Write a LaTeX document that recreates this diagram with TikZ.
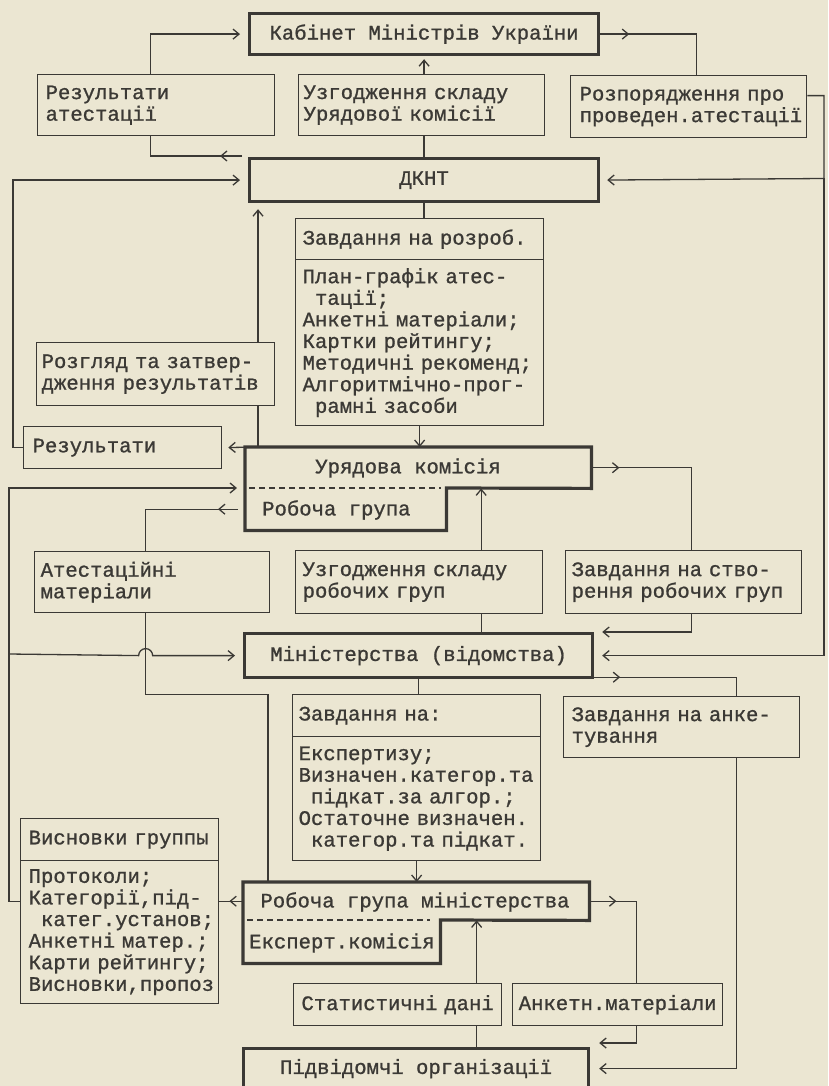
\documentclass[tikz,border=0pt]{standalone}
\usepackage{fontspec}
\usetikzlibrary{arrows.meta,decorations.markings}
\newfontfamily\mono[FakeBold=1]{Liberation Mono}
\definecolor{paper}{HTML}{EBE6D2}
\definecolor{ink}{HTML}{3B3935}
\tikzset{
  every node/.style={font=\mono\fontsize{20.6}{21.6}\selectfont, text=ink},
  tb/.style={draw=ink, line width=1.3pt, anchor=north west, inner ysep=0pt, align=left,
    execute at begin node={\hyphenpenalty=10000 \exhyphenpenalty=10000}},
  thk/.style={draw=ink, line width=3.2pt, anchor=north west, inner sep=0pt},
  part/.style={anchor=north west, inner sep=0pt},
  lbl/.style={inner sep=0pt},
  ln/.style={draw=ink, line width=1.3pt},
  arr/.style={ln, -{Straight Barb[length=6pt,width=10pt]}},
  marr/.style={ln, postaction={decorate}, decoration={markings,
      mark=at position #1 with {\arrow{Straight Barb[length=6pt,width=10pt]}}}},
  dsh/.style={draw=ink, line width=1.3pt, dash pattern=on 6pt off 4pt},
}
\begin{document}
\begin{tikzpicture}[x=1pt,y=-1pt]
\fill[paper] (0,0) rectangle (828,1086);
\useasboundingbox (0,0) rectangle (828,1086);

% ---------- boxes ----------
\node[thk, minimum width=349, minimum height=41] (kab) at (248,12) {Кабінет~Міністрів~України};
\node[tb, minimum width=237, minimum height=61, inner xsep=8pt, text width=221] (ra) at (37,74) {Результати\\атестації};
\node[tb, minimum width=246, minimum height=61, inner xsep=5pt, text width=236] (uzk) at (298,74) {Узгодження~складу\\Урядової~комісії};
\node[tb, minimum width=236, minimum height=62, inner xsep=9pt, text width=218] (roz) at (570,75) {Розпорядження~про\\проведен.атестації};
\node[thk, minimum width=349, minimum height=43] (dknt) at (248,157) {ДКНТ};
\node[tb, minimum width=248, minimum height=41, inner xsep=7pt, text width=234] (zrh) at (295,218) {Завдання~на~розроб.};
\node[tb, minimum width=248, minimum height=166, inner xsep=7pt, text width=234] (zrb) at (295,259)
  {План-графік~атес-\\\phantom{a}тації;\\Анкетні~матеріали;\\Картки~рейтингу;\\Методичні~рекоменд;\\Алгоритмічно-прог-\\\phantom{a}рамні~засоби};
\node[tb, minimum width=238, minimum height=63, inner xsep=5pt, text width=228] (rozg) at (36,342) {Розгляд~та~затвер-\\дження~результатів};
\node[tb, minimum width=198, minimum height=42, inner xsep=9pt, text width=180] (rez) at (23,426) {Результати};

% Урядова комісія / Робоча група
\node[part, minimum width=346, minimum height=41] (ub1) at (245,447) {};
\node[part, minimum width=201, minimum height=42] (ub2) at (245,488) {};
\draw[ink, line width=3.2pt] (ub1.north west) -- (ub1.north east) -- (ub1.south east) -- (ub2.north east)
  -- (ub2.south east) -- (ub2.south west) -- cycle;
\draw[dsh] ([xshift=4pt]ub2.north west) -- ([xshift=-5pt]ub2.north east);
\node[lbl] (urkt) at (408,468) {Урядова~комісія};
\node[lbl, anchor=west] (rgt) at (262,510) {Робоча~група};

\node[tb, minimum width=235, minimum height=61, inner xsep=6pt, text width=223] (ats) at (34,551) {Атестаційні\\матеріали};
\node[tb, minimum width=247, minimum height=63, inner xsep=7pt, text width=233] (uzr) at (295,550) {Узгодження~складу\\робочих~груп};
\node[tb, minimum width=236, minimum height=63, inner xsep=6pt, text width=224] (zst) at (565,550) {Завдання~на~ство-\\рення~робочих~груп};
\node[thk, minimum width=348, minimum height=44] (min) at (243,632) {Міністерства~(відомства)};
\node[tb, minimum width=248, minimum height=42, inner xsep=6pt, text width=236] (znh) at (292,694) {Завдання~на:};
\node[tb, minimum width=248, minimum height=124, inner xsep=6pt, text width=236] (znb) at (292,736)
  {Експертизу;\\Визначен.категор.та\\\phantom{a}підкат.за~алгор.;\\Остаточне~визначен.\\\phantom{a}категор.та~підкат.};
\node[tb, minimum width=236, minimum height=61, inner xsep=8pt, text width=220] (zan) at (563,696) {Завдання~на~анке-\\тування};
\node[tb, minimum width=198, minimum height=42, inner xsep=8pt, text width=182] (vysh) at (20,818) {Висновки~группы};
\node[tb, minimum width=198, minimum height=143, inner xsep=8pt, text width=182] (vysb) at (20,860)
  {Протоколи;\\Категорії,під-\\\phantom{a}катег.установ;\\Анкетні~матер.;\\Карти~рейтингу;\\Висновки,пропоз};

% Робоча група міністерства / Експерт.комісія
\node[part, minimum width=346, minimum height=38] (gb1) at (243,882) {};
\node[part, minimum width=197, minimum height=43] (gb2) at (243,920) {};
\draw[ink, line width=3.2pt] (gb1.north west) -- (gb1.north east) -- (gb1.south east) -- (gb2.north east)
  -- (gb2.south east) -- (gb2.south west) -- cycle;
\draw[dsh] ([xshift=4pt]gb2.north west) -- ([xshift=-10pt]gb2.north east);
\node[lbl] (rgmt) at (415,902) {Робоча~група~міністерства};
\node[lbl, anchor=west] (ekt) at (249,943) {Експерт.комісія};

\node[tb, align=center, minimum width=208, minimum height=42, inner xsep=4pt, text width=200] (stat) at (293,983) {Статистичні~дані};
\node[tb, align=center, minimum width=210, minimum height=42, inner xsep=5pt, text width=200] (ankm) at (512,983) {Анкетн.матеріали};
\node[thk, minimum width=345, minimum height=40] (pidv) at (242,1047) {Підвідомчі~організації};

% ---------- helper coordinates ----------
\coordinate (rj) at (824,178.5);
\coordinate (ut) at ([xshift=13pt]ub1.north west);
\coordinate (uz) at ([xshift=62pt]uzr.north);
\coordinate (za) at ([xshift=55pt]zan.north);
\coordinate (am) at ([xshift=19pt]ankm.north);
\coordinate (sd) at ([xshift=79pt]stat.north);
\coordinate (av) at ([xshift=-6.5pt]ats.south);
\coordinate (avn) at ([xshift=-6.5pt]ats.north);
\coordinate (gt) at ([xshift=25pt]gb1.north west);
\coordinate (vj) at (9,654);
\coordinate (hop) at (av |- min.west);

% ---------- connectors ----------
\draw[arr, shorten >=8pt] ([xshift=-5.5pt]ra.north) |- (kab.west);
\draw[marr=22pt] ([xshift=-6pt,yshift=1pt]dknt.north west) -| ([xshift=-5.5pt]ra.south);
\draw[ln] (dknt.north) -- (dknt.north |- uzk.south);
\draw[arr, shorten >=3pt] (kab.south |- uzk.north) -- (kab.south);
\draw[marr=29pt] (kab.east) -| ([xshift=8pt]roz.north);
\draw[arr, shorten >=7pt] ([yshift=11pt]roz.east) -| (rj) -- (dknt.east);
\draw[arr, shorten >=8pt] (rj) |- (min.east);
\draw[ln] (dknt.south) -- (dknt.south |- zrh.north);
\draw[arr] (zrb.south) -- (zrb.south |- ub1.north);
\draw[ln] (ut) -- (ut |- rozg.south);
\draw[arr, shorten >=6pt] (ut |- rozg.north) -- (ut |- dknt.south);
\draw[arr, shorten >=6pt] (ut) -- (rez.east);
\draw[arr, shorten >=8pt] (rez.west) -- ++(-10,0) |- (dknt.west);
\draw[marr=28pt] (ub1.east) -| ([xshift=8pt]zst.north);
\draw[arr] (uz) -- (uz |- ub1.south);
\draw[ln] (uz |- min.north) -- (uz |- uzr.south);
\draw[arr, shorten >=8pt] ([xshift=8pt]zst.south) |- (min.north east);
\draw[marr=26pt] ([yshift=2pt]min.south east) -| (za);
\draw[ln] (min.south) -- (min.south |- znh.north);
\draw[arr] (znb.south) -- (znb.south |- gb1.north);
\draw[arr, shorten >=9pt] (za |- zan.south) |- (pidv.east);
\draw[marr=27pt] (gb1.east) -| (am);
\draw[arr, shorten >=9pt] (am |- ankm.south) |- ([yshift=4pt]pidv.north east);
\draw[arr] (sd) -- (sd |- gb1.south);
\draw[ln] (sd |- pidv.north) -- (sd |- stat.south);
\draw[marr=-10pt] (gb1.west) -- (vysb.east |- gb1.west);
\draw[arr, shorten >=8pt] (vysb.west |- gb1.west) -- ++(-11,0) |- (ub2.north west);
\draw[arr, shorten >=8pt] (vj) -- ([xshift=-7pt]hop) arc[start angle=180, end angle=0, radius=7pt] -- (min.west);
\draw[marr=20pt] ([xshift=-7pt]ub2.west) -| (avn);
\draw[ln] (av) -- ++(0,81) -| (gt);
\end{tikzpicture}
\end{document}
